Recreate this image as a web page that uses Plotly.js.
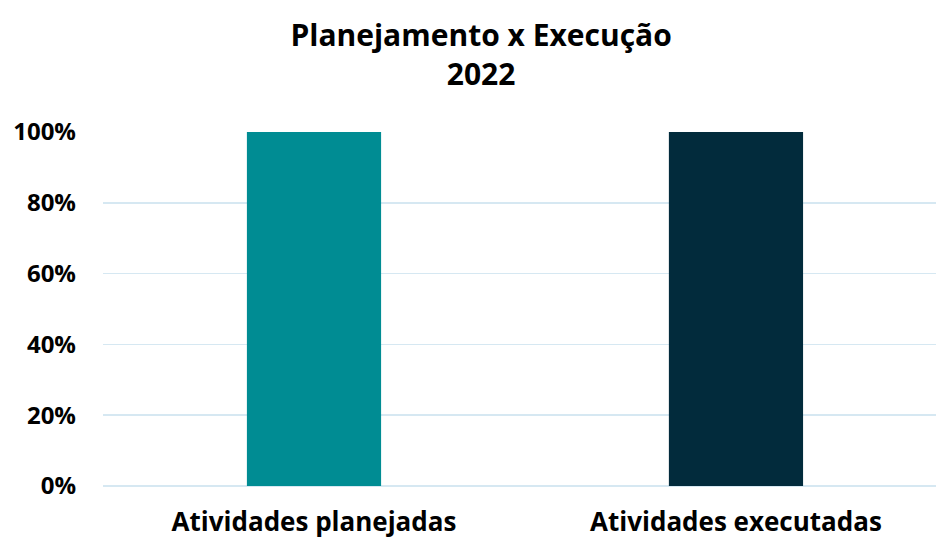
<!DOCTYPE html>
<html><head><meta charset="utf-8">
<script src="https://cdn.plot.ly/plotly-3.0.1.min.js"></script>
<style>html,body{margin:0;padding:0;background:#fff}#c{width:936px;height:541px}</style>
</head><body><div id="c"></div>
<script>
const categories = ["Atividades planejadas", "Atividades executadas"];
const values = [1, 1];
const barColors = ["#008C93", "#022B3C"];
const yTicks = [0, 0.2, 0.4, 0.6, 0.8, 1];
const yTickLabels = ["0%", "20%", "40%", "60%", "80%", "100%"];

const font = "'Open Sans', 'Noto Sans', sans-serif";
Plotly.newPlot("c", [{
  type: "bar", x: categories, y: values,
  marker: {color: barColors}, hoverinfo: "none"
}], {
  width: 936, height: 541,
  margin: {l: 103, r: 0, t: 132, b: 55},
  paper_bgcolor: "#fff", plot_bgcolor: "#fff",
  bargap: 0.682,
  title: {text: "<b>Planejamento x Execução<br>2022</b>", font: {family: font, size: 30, color: "#000"},
          x: 0.514, xanchor: "center", xref: "container", yref: "container", y: 0.915, yanchor: "middle", automargin: false},
  xaxis: {range: [-0.5, 1.474], showgrid: false, showline: false, ticks: "",
          ticklabelstandoff: 18,
          tickfont: {family: font, size: 26, color: "#000", weight: "bold"}},
  yaxis: {range: [0, 1], tickvals: yTicks, ticktext: yTickLabels, showline: false,
          gridcolor: "#D6E8F2", gridwidth: 1.5, zeroline: true, zerolinecolor: "#D6E8F2", zerolinewidth: 1.5,
          ticklabelstandoff: 26,
          tickfont: {family: font, size: 24, color: "#000", weight: "bold"}},
  showlegend: false
}, {displayModeBar: false, staticPlot: true});
</script></body></html>
